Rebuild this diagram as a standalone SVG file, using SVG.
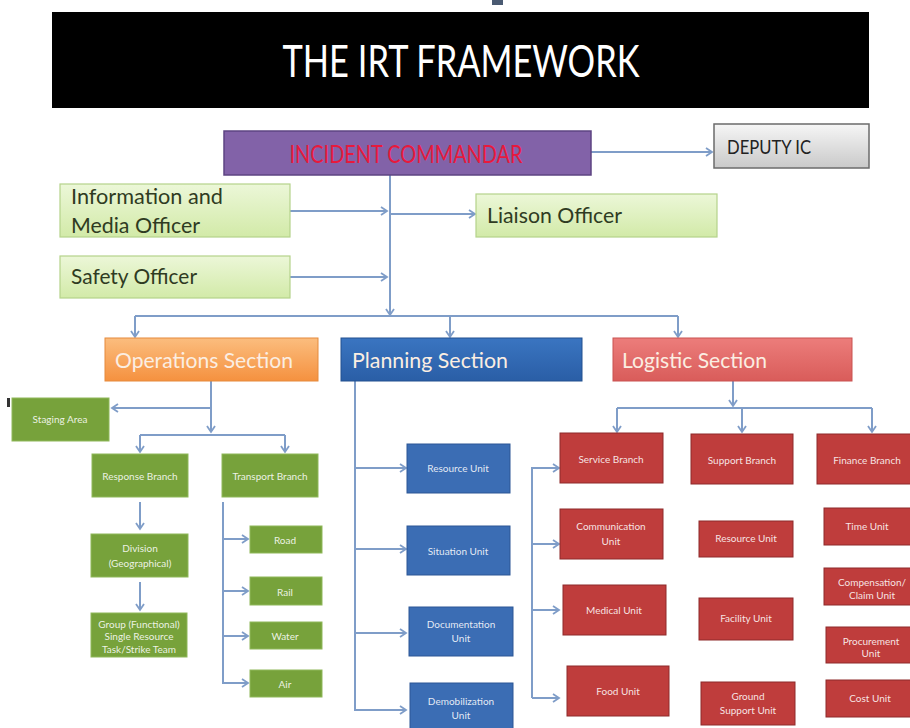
<svg xmlns="http://www.w3.org/2000/svg" width="910" height="728" viewBox="0 0 910 728">
<style>
text{font-family:Lato,"Liberation Sans","DejaVu Sans",sans-serif}
.c{fill:none;stroke:#7f9dc8;stroke-width:2}
.ca{fill:none;stroke:#7f9dc8;stroke-width:2;marker-end:url(#ah)}
.g{fill:#77a23b;stroke:#8fb85a;stroke-width:1}
.b{fill:#3b6db4;stroke:#2c5795;stroke-width:1}
.r{fill:#bf3d3c;stroke:#8e2a2a;stroke-width:1}
.st{fill:#ffffff;fill-opacity:0.88;font-size:10px;text-anchor:middle}
.off{fill:url(#lg);stroke:#b5d38a;stroke-width:1.2}
.ot{fill:#2f3b22;font-size:21px}
.sec{font-size:21px;fill:#fbeee2}
</style>
<defs>
<marker id="ah" markerUnits="userSpaceOnUse" markerWidth="10" markerHeight="10" refX="7" refY="5" orient="auto">
<path d="M1,1 L7,5 L1,9" fill="none" stroke="#7f9dc8" stroke-width="1.8"/>
</marker>
<linearGradient id="lg" x1="0" y1="0" x2="0" y2="1"><stop offset="0" stop-color="#ecf7d8"/><stop offset="1" stop-color="#d2eaa8"/></linearGradient>
<linearGradient id="og" x1="0" y1="0" x2="0" y2="1"><stop offset="0" stop-color="#fbbd7e"/><stop offset="1" stop-color="#f5913f"/></linearGradient>
<linearGradient id="pg" x1="0" y1="0" x2="0" y2="1"><stop offset="0" stop-color="#3a75c1"/><stop offset="1" stop-color="#2a5ea6"/></linearGradient>
<linearGradient id="rg" x1="0" y1="0" x2="0" y2="1"><stop offset="0" stop-color="#ec7d7b"/><stop offset="1" stop-color="#d95c5a"/></linearGradient>
<linearGradient id="dg" x1="0" y1="0" x2="0" y2="1"><stop offset="0" stop-color="#f6f6f6"/><stop offset="1" stop-color="#c9c9c9"/></linearGradient>
</defs>
<rect x="0" y="0" width="910" height="728" fill="#ffffff"/>
<rect x="492" y="0" width="11" height="5" fill="#4a5a72"/>
<rect x="7" y="398" width="3" height="9" fill="#333333"/>

<g id="title">
<rect x="52" y="12" width="817" height="96" fill="#000000"/>
<text x="461" y="77" font-size="44" fill="#ffffff" text-anchor="middle" textLength="357" lengthAdjust="spacingAndGlyphs">THE IRT FRAMEWORK</text>
</g>

<g id="connectors">
<path class="ca" d="M591,152 H712"/>
<path class="ca" d="M390,175 V315"/>
<path class="ca" d="M290,211 H387"/>
<path class="ca" d="M290,277 H387"/>
<path class="ca" d="M390,214 H475"/>
<path class="c" d="M135,316 H678"/>
<path class="ca" d="M135,316 V337"/>
<path class="ca" d="M450,316 V337"/>
<path class="ca" d="M678,316 V337"/>
<path class="ca" d="M211,381 V432"/>
<path class="ca" d="M211,408 H112"/>
<path class="c" d="M140,435 H285"/>
<path class="ca" d="M140,435 V452"/>
<path class="ca" d="M285,435 V452"/>
<path class="ca" d="M140,502 V529"/>
<path class="ca" d="M140,582 V610"/>
<path class="ca" d="M223,502 V683 H248"/>
<path class="ca" d="M223,539 H248"/>
<path class="ca" d="M223,591 H248"/>
<path class="ca" d="M223,636 H248"/>
<path class="ca" d="M355,381 V710 H406"/>
<path class="ca" d="M355,468 H406"/>
<path class="ca" d="M355,549 H406"/>
<path class="ca" d="M355,633 H406"/>
<path class="ca" d="M733,381 V406"/>
<path class="c" d="M617,408 H872"/>
<path class="ca" d="M617,408 V432"/>
<path class="ca" d="M742,408 V432"/>
<path class="ca" d="M872,408 V432"/>
<path class="ca" d="M532,698 V468 H559"/>
<path class="ca" d="M532,544 H559"/>
<path class="ca" d="M532,610 H559"/>
<path class="ca" d="M532,698 H559"/>
</g>

<g id="incident-commander">
<rect x="224" y="131" width="367" height="44" fill="#8262a8" stroke="#5d4482" stroke-width="1.5"/>
<text x="406" y="163" font-size="25" fill="#e8193c" text-anchor="middle" textLength="233" lengthAdjust="spacingAndGlyphs">INCIDENT COMMANDAR</text>
</g>
<g id="deputy-ic">
<rect x="714" y="124" width="155" height="44" fill="url(#dg)" stroke="#6b6b6b" stroke-width="1.5"/>
<text x="727" y="154" font-size="19" fill="#222222" textLength="84" lengthAdjust="spacingAndGlyphs">DEPUTY IC</text>
</g>
<g id="info-media-officer">
<rect class="off" x="60" y="184" width="230" height="53"/>
<text class="ot" x="71" y="204" textLength="152" lengthAdjust="spacingAndGlyphs">Information and</text>
<text class="ot" x="71" y="233" textLength="129" lengthAdjust="spacingAndGlyphs">Media Officer</text>
</g>
<g id="safety-officer">
<rect class="off" x="60" y="256" width="230" height="42"/>
<text class="ot" x="71" y="284" textLength="126" lengthAdjust="spacingAndGlyphs">Safety Officer</text>
</g>
<g id="liaison-officer">
<rect class="off" x="476" y="194" width="241" height="43"/>
<text class="ot" x="487" y="223" textLength="135" lengthAdjust="spacingAndGlyphs">Liaison Officer</text>
</g>

<g id="operations-section">
<rect x="105" y="338" width="213" height="43" fill="url(#og)" stroke="#e58a3c" stroke-width="1"/>
<text class="sec" x="115" y="368" textLength="178" lengthAdjust="spacingAndGlyphs">Operations Section</text>
</g>
<g id="planning-section">
<rect x="341" y="338" width="241" height="43" fill="url(#pg)" stroke="#22508f" stroke-width="1"/>
<text class="sec" x="352" y="368" fill="#eef3fb" textLength="156" lengthAdjust="spacingAndGlyphs">Planning Section</text>
</g>
<g id="logistic-section">
<rect x="613" y="338" width="239" height="43" fill="url(#rg)" stroke="#c95250" stroke-width="1"/>
<text class="sec" x="622" y="368" fill="#fde8e8" textLength="145" lengthAdjust="spacingAndGlyphs">Logistic Section</text>
</g>

<g id="staging-area"><rect class="g" x="12" y="398" width="97" height="43"/><text class="st" x="60" y="423" font-size="8">Staging Area</text></g>
<g id="response-branch"><rect class="g" x="92" y="454" width="96" height="43"/><text class="st" x="140" y="480">Response Branch</text></g>
<g id="transport-branch"><rect class="g" x="222" y="454" width="96" height="43"/><text class="st" x="270" y="480">Transport Branch</text></g>
<g id="division"><rect class="g" x="91" y="534" width="97" height="43"/><text class="st" x="140" y="552">Division</text><text class="st" x="140" y="567">(Geographical)</text></g>
<g id="group"><rect class="g" x="91" y="613" width="96" height="44"/><text class="st" x="139" y="628" font-size="9">Group (Functional)</text><text class="st" x="139" y="640" font-size="9">Single Resource</text><text class="st" x="139" y="653" font-size="9">Task/Strike Team</text></g>
<g id="road"><rect class="g" x="250" y="526" width="72" height="27"/><text class="st" x="285" y="544">Road</text></g>
<g id="rail"><rect class="g" x="250" y="577" width="72" height="28"/><text class="st" x="285" y="596">Rail</text></g>
<g id="water"><rect class="g" x="250" y="622" width="72" height="27"/><text class="st" x="285" y="640">Water</text></g>
<g id="air"><rect class="g" x="250" y="670" width="72" height="27"/><text class="st" x="285" y="688">Air</text></g>

<g id="resource-unit-planning"><rect class="b" x="407" y="444" width="103" height="49"/><text class="st" x="458" y="472">Resource Unit</text></g>
<g id="situation-unit"><rect class="b" x="407" y="526" width="103" height="49"/><text class="st" x="458" y="555">Situation Unit</text></g>
<g id="documentation-unit"><rect class="b" x="409" y="607" width="104" height="49"/><text class="st" x="461" y="628">Documentation</text><text class="st" x="461" y="642">Unit</text></g>
<g id="demobilization-unit"><rect class="b" x="410" y="683" width="103" height="50"/><text class="st" x="461" y="705">Demobilization</text><text class="st" x="461" y="719">Unit</text></g>

<g id="service-branch"><rect class="r" x="560" y="433" width="103" height="50"/><text class="st" x="611" y="463">Service Branch</text></g>
<g id="support-branch"><rect class="r" x="691" y="434" width="102" height="50"/><text class="st" x="742" y="464">Support Branch</text></g>
<g id="finance-branch"><rect class="r" x="817" y="434" width="100" height="50"/><text class="st" x="867" y="464">Finance Branch</text></g>
<g id="communication-unit"><rect class="r" x="560" y="509" width="103" height="50"/><text class="st" x="611" y="530">Communication</text><text class="st" x="611" y="545">Unit</text></g>
<g id="medical-unit"><rect class="r" x="563" y="585" width="103" height="50"/><text class="st" x="614" y="614">Medical Unit</text></g>
<g id="food-unit"><rect class="r" x="567" y="666" width="102" height="50"/><text class="st" x="618" y="695">Food Unit</text></g>
<g id="resource-unit-support"><rect class="r" x="699" y="521" width="94" height="36"/><text class="st" x="746" y="542">Resource  Unit</text></g>
<g id="facility-unit"><rect class="r" x="699" y="598" width="94" height="42"/><text class="st" x="746" y="622">Facility  Unit</text></g>
<g id="ground-support-unit"><rect class="r" x="701" y="682" width="94" height="43"/><text class="st" x="748" y="700">Ground</text><text class="st" x="748" y="714">Support Unit</text></g>
<g id="time-unit"><rect class="r" x="824" y="508" width="90" height="37"/><text class="st" x="867" y="530">Time Unit</text></g>
<g id="compensation-claim-unit"><rect class="r" x="824" y="568" width="90" height="37"/><text class="st" x="872" y="586">Compensation/</text><text class="st" x="872" y="599">Claim  Unit</text></g>
<g id="procurement-unit"><rect class="r" x="826" y="627" width="90" height="36"/><text class="st" x="871" y="645">Procurement</text><text class="st" x="871" y="657">Unit</text></g>
<g id="cost-unit"><rect class="r" x="826" y="680" width="90" height="37"/><text class="st" x="870" y="702">Cost  Unit</text></g>
</svg>
